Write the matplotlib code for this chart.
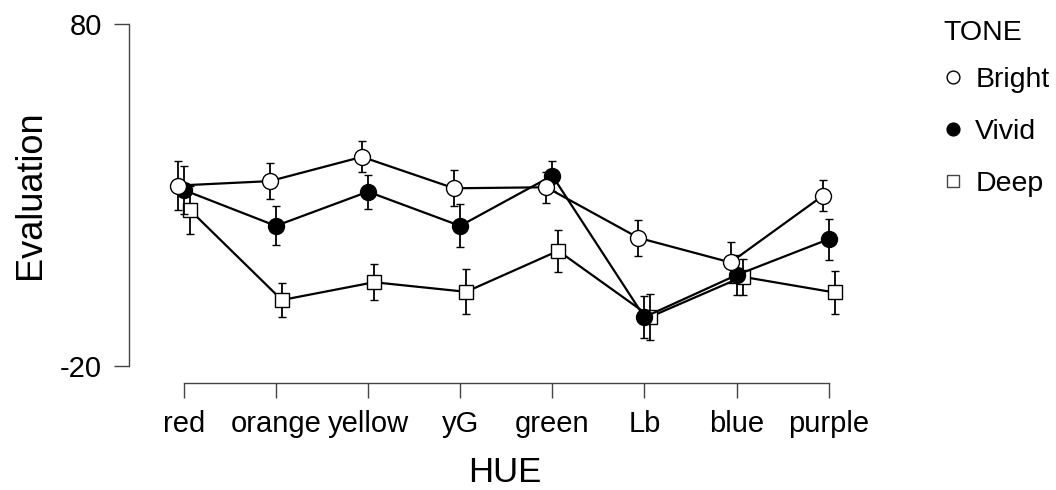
import numpy as np
import matplotlib
matplotlib.use("Agg")
import matplotlib.pyplot as plt
from matplotlib.lines import Line2D

plt.rcParams['font.family'] = ['Liberation Sans', 'DejaVu Sans']

# mean evaluation per hue for each tone, with error bar half-widths
hues = ['red', 'orange', 'yellow', 'yG', 'green', 'Lb', 'blue', 'purple']
tones = ['Bright', 'Vivid', 'Deep']

bright = [32.8, 34.1, 41.2, 32.0, 32.3, 17.5, 10.3, 29.8]
vivid = [31.5, 21.0, 31.0, 21.0, 35.7, -5.7, 6.6, 17.1]
deep = [25.7, -0.7, 4.5, 1.7, 13.7, -5.6, 6.1, 1.5]

bright_err = [7.2, 5.2, 4.5, 5.3, 4.5, 5.3, 5.9, 4.5]
vivid_err = [7.0, 5.7, 5.0, 6.3, 4.4, 6.1, 5.9, 6.0]
deep_err = [7.0, 5.1, 5.2, 6.6, 6.2, 6.7, 5.2, 6.2]

yticks = [-20, 80]

means = {'Bright': bright, 'Vivid': vivid, 'Deep': deep}
errs = {'Bright': bright_err, 'Vivid': vivid_err, 'Deep': deep_err}

# marker style and horizontal dodge for each tone
style = {
    'Bright': dict(marker='o', mfc='white', ms=11.5, dodge=-0.065, z=4),
    'Vivid': dict(marker='o', mfc='black', ms=11.5, dodge=0.0, z=3),
    'Deep': dict(marker='s', mfc='white', ms=10.5, dodge=0.065, z=2),
}

fig = plt.figure(figsize=(10.56, 4.9), dpi=100)
ax = fig.add_axes([129 / 1056, 1 - 382.7 / 490, 751 / 1056, 372.7 / 490])

x = np.arange(1, len(hues) + 1)
for tone in tones:
    s = style[tone]
    ax.errorbar(x + s['dodge'], means[tone], yerr=errs[tone],
                color='black', lw=1.6, marker=s['marker'], ms=s['ms'],
                mfc=s['mfc'], mec='black', mew=1.0,
                elinewidth=1.3, capsize=2.6, capthick=1.8, zorder=s['z'])

ax.set_xlim(0.406, 8.557)
ax.set_ylim(-24.9, 84.18)

# R-style detached axes
for side in ['top', 'right']:
    ax.spines[side].set_visible(False)
for side in ['left', 'bottom']:
    ax.spines[side].set_color('#444444')
    ax.spines[side].set_linewidth(1.0)
ax.spines['left'].set_bounds(-20, 80)
ax.spines['bottom'].set_bounds(1, len(hues))

ax.set_xticks(x)
ax.set_xticklabels(hues)
ax.set_yticks(yticks)
ax.set_yticklabels([str(t) for t in yticks])
ax.tick_params(axis='both', direction='out', length=10.5, width=1.0,
               color='#444444', labelsize=21, pad=9)

ax.set_xlabel('HUE', fontsize=25, va='center')
ax.xaxis.set_label_coords(0.5007, -0.24)
ax.set_ylabel('Evaluation', fontsize=26, va='center')
ax.yaxis.set_label_coords(-0.1318, 0.5036)

# legend: title drawn separately so the row spacing can be set on its own
fig.text(943 / 1056, 1 - 33 / 490, 'TONE', fontsize=20.5, ha='left', va='center')
handles = [
    Line2D([], [], ls='none', marker=style[t]['marker'], ms=style[t]['ms'] * 0.8,
           mfc=style[t]['mfc'], mec='black' if t != 'Deep' else '#444444', mew=1.0)
    for t in tones
]
fig.legend(handles, tones, loc='upper left',
           bbox_to_anchor=(939 / 1056, 1 - 67 / 490), frameon=False,
           fontsize=20.5, handlelength=1.0, handletextpad=0.27,
           labelspacing=0.92, borderpad=0, borderaxespad=0)

fig.savefig('out.png', dpi=100)
